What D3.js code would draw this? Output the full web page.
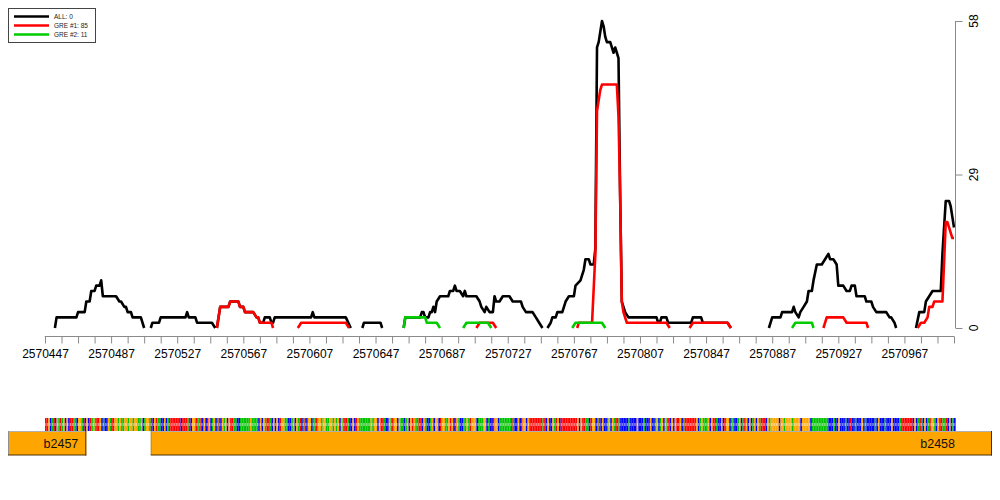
<!DOCTYPE html>
<html><head><meta charset="utf-8">
<script src="https://cdn.jsdelivr.net/npm/d3@7"></script>
<style>body{margin:0;background:#fff}svg{display:block;font-family:"Liberation Sans",Arial,Helvetica,sans-serif}</style>
</head><body><svg id="c" width="1000" height="500"></svg>
<script>
// ---- data ----
const START = 2570447, END = 2570997;
const xTickLabels = [2570447,2570487,2570527,2570567,2570607,2570647,2570687,2570727,2570767,2570807,2570847,2570887,2570927,2570967];
const yTicks = [0, 29, 58];
const legendLabels = ["ALL: 0", "GRE #1: 85", "GRE #2: 11"];
// [offset from START (bp), coverage]; null = gap
const allSeries = [[6,0],[7,2],[19,2],[20,3],[24,3],[25,5],[27,5],[28,7],[30,7],[31,8],[33,8],[34,9],[35,6],[43,6],[45,5],[46,5],[48,4],[49,4],[50,3],[52,3],[53,2],[58,2],[60,0],null,
 [64,0],[65,1],[69,1],[70,2],[85,2],[86,3],[87,2],[91,2],[92,1],[101,1],[103,0],null,
 [104,0],[106,4],[111,4],[112,5],[117,5],[118,4],[120,4],[121,3],[126,3],[128,2],[129,2],[130,1],[132,1],[133,2],[136,2],[137,1],[138,1],[139,2],[161,2],[162,3],[163,2],[182,2],[185,0],null,
 [192,0],[193,1],[203,1],[204,0],null,
 [217,0],[218,2],[227,2],[228,3],[229,3],[230,2],[232,2],[233,3],[234,3],[235,4],[236,3],[237,5],[239,6],[244,6],[245,7],[247,7],[248,8],[249,7],[251,7],[253,6],[254,7],[255,6],[261,6],[263,5],[264,4],[266,3],[267,4],[269,3],[271,3],[272,6],[273,5],[275,5],[277,6],[281,6],[283,5],[288,5],[289,4],[291,3],[295,3],[297,2],[299,1],[301,0],null,
 [304,0],[306,1],[307,2],[309,2],[310,3],[313,3],[314,4],[315,5],[317,6],[320,6],[321,8],[324,9],[326,11],[327,13],[329,13],[330,12],[332,12],[333,15],[334,53],[335,54],[336,56],[337,58],[338,57],[339,55],[340,54],[342,54],[343,53],[344,52],[345,53],[346,52],[347,51],[348,25],[349,5],[350,4],[351,3],[353,2],[370,2],[371,1],[372,1],[373,2],[376,2],[377,1],[391,1],[392,2],[397,2],[398,1],[413,1],[415,0],null,
 [438,0],[440,2],[445,2],[446,3],[452,3],[453,4],[454,3],[456,2],[457,3],[459,4],[461,5],[462,7],[464,7],[465,9],[467,12],[470,12],[472,13],[474,14],[475,13],[477,13],[479,12],[480,8],[483,8],[485,7],[487,7],[488,8],[490,8],[491,6],[496,6],[497,5],[500,5],[501,4],[503,3],[509,3],[511,2],[512,2],[514,1],[515,0],null,
 [527,0],[529,3],[532,3],[533,5],[535,6],[537,7],[542,7],[543,14],[545,24],[547,24],[548,23],[549,21],[550,19]];
const gre1Series = [[104,0],[106,4],[111,4],[112,5],[117,5],[118,4],[120,4],[121,3],[126,3],[128,2],[129,2],[130,1],[137,1],[138,0],null,
 [153,0],[155,1],[182,1],[184,0],null,
 [261,0],[263,1],[271,1],[273,0],null,
 [322,0],[323,1],[331,1],[333,14],[334,41],[335,43],[336,45],[337,46],[346,46],[347,40],[348,25],[349,5],[350,3],[351,2],[352,1],[376,1],[378,0],null,
 [390,0],[392,1],[413,1],[415,0],null,
 [471,0],[473,2],[483,2],[485,1],[497,1],[498,0],null,
 [528,0],[530,1],[532,1],[534,2],[535,4],[537,4],[538,5],[543,5],[545,20],[546,20],[547,19],[549,17],[550,17]];
const gre2Series = [[217,0],[218,2],[230,2],[231,1],[237,1],[239,0],null,
 [253,0],[255,1],[268,1],[270,0],null,
 [319,0],[321,1],[337,1],[339,0],null,
 [452,0],[454,1],[464,1],[465,0]];
const sequence =
 "TTGCATCGAT" + "AGCGCTTAAC" + "GGATCGCTAG" + "ATTGCACCGA" + "TTGGAGAAGG" +
 "AGGAGGAAGC" + "AGGATCGTAA" + "CCGCATTTTT" + "TTCTTTATCG" + "GTAATCGCTG" +
 "CAGCATCGAG" + "CGTTAACCAA" + "AAAAGAAAAC" + "GCGATTACGC" + "GCTGGAACCA" +
 "GCGATCATCG" + "GCAATGGAGG" + "AAGGAGAGCG" + "ATTACCGCTG" + "AAAAAAAGAG" +
 "GCGTTACCGA" + "TGGCGAACAG" + "CGTGAATTCG" + "ACCAGCGGCT" + "GGAAGTGCTG" +
 "ACCAAGATGG" + "GCAAAGGCAC" + "CTGGCAAAAA" + "AATACCGCTG" + "GCGTTTTTTT" +
 "TATCGCCGAT" + "GCTTTTTTTT" + "TTGCGTTAAC" + "TGGCATCGCC" + "AGCGATTACC" +
 "CCCACCCCGC" + "CCACCCGCCA" + "GCAGCGATCG" + "CGTTGCATTT" + "TTTTGCAGAA" +
 "AGCGTTACCG" + "CTGGCAACCA" + "GCATGCGCAG" + "CGATTTCGAG" + "GGGGCGGAGG" +
 "GGAGGGGCGG" + "GGGCAAAAAA" + "AAAACCCACC" + "GCCCACCTCC" + "ACCCGCACCC" +
 "CCACGCCCAC" + "CCGCCCCATT" + "TTTTTCGCAT" + "ACGCATGGAC" + "GTTAATCGCA" +
 "C";
const seqColors = {A: "#00c000", C: "#0000ff", G: "#ffa500", T: "#ff0000"};
const genes = [{name: "b2457", start: -23, end: 25}, {name: "b2458", start: 64, end: 575}];

// ---- drawing ----
const svg = d3.select("#c");
const x = d3.scaleLinear().domain([START, END]).range([45, 954]);
const y = d3.scaleLinear().domain([0, 58]).range([328, 21]);

function toPts(s){ return s.map(d => d ? {p: START + d[0], v: d[1]} : null); }
const line = d3.line().defined(d => d !== null).x(d => x(d.p)).y(d => y(d.v));

const drawOrder = [
  {data: allSeries, color: "#000000"},
  {data: gre1Series, color: "#ff0000"},
  {data: gre2Series, color: "#00cc00"}
];
drawOrder.forEach(s => {
  svg.append("path").attr("d", line(toPts(s.data))).attr("fill", "none")
    .attr("stroke", s.color).attr("stroke-width", 2.6).attr("stroke-linejoin", "round");
});

// x axis
const minor = d3.range(START, END + 1, 10);
const xAxis = d3.axisBottom(x).tickValues(minor).tickSize(7)
  .tickFormat(d => xTickLabels.includes(d) ? d : "");
const gx = svg.append("g").attr("transform", "translate(0,336.5)").call(xAxis);
gx.select(".domain").attr("stroke", "#8a8a8a").attr("d", `M${x(START)},0.5V0H${x(END)}V0.5`);
gx.selectAll(".tick line").attr("stroke", "#8a8a8a");
gx.selectAll(".tick text").attr("font-size", 12).attr("font-family", "Liberation Sans, Arial, sans-serif").attr("fill", "#000").attr("dy", "0.98em");

// y axis (right)
const yAxis = d3.axisRight(y).tickValues(yTicks).tickSize(7).tickFormat("");
const gy = svg.append("g").attr("transform", "translate(955.5,0)").call(yAxis);
gy.select(".domain").attr("stroke", "#8a8a8a").attr("d", `M0,${y(58)}V${y(0)}`);
gy.selectAll(".tick line").attr("stroke", "#8a8a8a");
yTicks.forEach(t => {
  svg.append("text").attr("transform", `translate(978,${y(t)}) rotate(-90)`)
    .attr("text-anchor", "middle").attr("font-size", 12).text(t);
});

// legend
const lg = svg.append("g");
lg.append("rect").attr("x", 8.5).attr("y", 8.5).attr("width", 87).attr("height", 34)
  .attr("fill", "#fff").attr("stroke", "#444").attr("stroke-width", 1);
const legColors = ["#000000", "#ff0000", "#00cc00"];
legendLabels.forEach((l, i) => {
  const yy = 16.5 + i * 9;
  lg.append("line").attr("x1", 14).attr("x2", 49).attr("y1", yy).attr("y2", yy)
    .attr("stroke", legColors[i]).attr("stroke-width", 2.6);
  lg.append("text").attr("x", 54).attr("y", yy).attr("dy", "0.35em")
    .attr("font-size", 6.5).attr("fill", "#222").text(l);
});

// sequence track
const sg = svg.append("g");
const nb = Math.min(sequence.length, END - START + 1);
for (let i = 0; i < nb; i++) {
  const b = sequence[i];
  const x0 = x(START + i), x1 = x(START + i + 1);
  sg.append("rect").attr("x", x0).attr("y", 418).attr("width", x1 - x0).attr("height", 13)
    .attr("fill", seqColors[b]);
  sg.append("rect").attr("x", x0 + (x1 - x0) / 2 - 0.3).attr("y", 423).attr("width", 0.6).attr("height", 3)
    .attr("fill", "#fff").attr("opacity", 0.8);
}

// gene track
const gg = svg.append("g");
genes.forEach(g => {
  const xa = Math.max(8, x(START + g.start)), xb = Math.min(992, x(START + g.end));
  gg.append("rect").attr("x", xa).attr("y", 431).attr("width", xb - xa).attr("height", 24).attr("fill", "#ffa500");
  gg.append("line").attr("x1", xa).attr("x2", xb).attr("y1", 431.5).attr("y2", 431.5).attr("stroke", "#b0b0b0");
  gg.append("line").attr("x1", xa + 0.5).attr("x2", xa + 0.5).attr("y1", 431).attr("y2", 455).attr("stroke", "#909090");
  gg.append("line").attr("x1", xa).attr("x2", xb).attr("y1", 455).attr("y2", 455).attr("stroke", "#4a3000");
  gg.append("line").attr("x1", xb - 0.5).attr("x2", xb - 0.5).attr("y1", 431).attr("y2", 455.5).attr("stroke", "#4a3000");
  const lx = Math.min(xb - 8, x(END) + 1);
  gg.append("text").attr("x", lx).attr("y", 448).attr("text-anchor", "end")
    .attr("font-size", 12.5).attr("fill", "#111").text(g.name);
});
</script></body></html>
